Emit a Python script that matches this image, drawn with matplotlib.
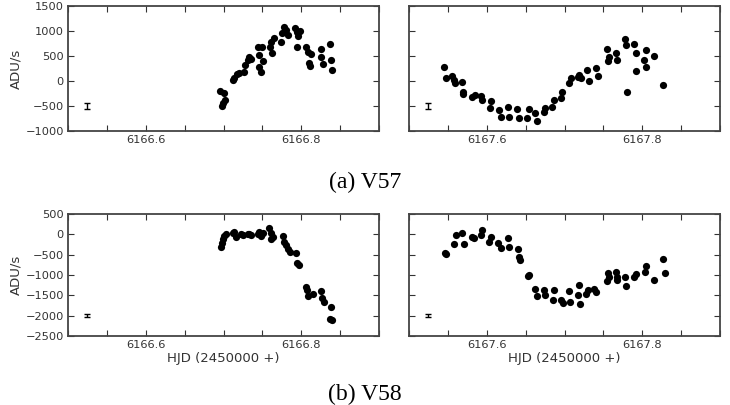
import matplotlib
matplotlib.use("Agg")
import matplotlib.pyplot as plt
import numpy as np

# ---------------- data ----------------
# V57, night 1
v57_n1_hjd = [6166.6959, 6166.7011, 6166.7019, 6166.6998, 6166.6976, 6166.7118, 6166.7140,
              6166.7170, 6166.7196, 6166.7269, 6166.7282, 6166.7312, 6166.7325, 6166.7355,
              6166.7441, 6166.7497, 6166.7454, 6166.7505, 6166.7462, 6166.7484, 6166.7604,
              6166.7626, 6166.7613, 6166.7647, 6166.7742, 6166.7755, 6166.7772, 6166.7798,
              6166.7828, 6166.7914, 6166.7944, 6166.7978, 6166.7957, 6166.7944, 6166.8065,
              6166.8086, 6166.8129, 6166.8095, 6166.8116, 6166.8258, 6166.8249, 6166.8280,
              6166.8366, 6166.8387, 6166.8400]
v57_n1_flux = [-193, -233, -380, -433, -500, 20, 53, 133, 153, 187, 320, 420, 487, 433,
               673, 673, 520, 400, 287, 173, 687, 553, 787, 853, 787, 967, 1087, 1020,
               920, 1053, 987, 1007, 900, 687, 673, 587, 533, 367, 300, 633, 487, 340,
               740, 420, 220]
# V57, night 2
v57_n2_hjd = [6167.5449, 6167.5471, 6167.5557, 6167.5578, 6167.5591, 6167.5677, 6167.5695,
              6167.5699, 6167.5815, 6167.5849, 6167.5923, 6167.5944, 6167.6052, 6167.6039,
              6167.6159, 6167.6181, 6167.6267, 6167.6280, 6167.6387, 6167.6409, 6167.6516,
              6167.6538, 6167.6624, 6167.6641, 6167.6740, 6167.6753, 6167.6839, 6167.6860,
              6167.6955, 6167.6968, 6167.7062, 6167.7084, 6167.7170, 6167.7191, 6167.7213,
              6167.7286, 6167.7312, 6167.7406, 6167.7428, 6167.7544, 6167.7570, 6167.7557,
              6167.7656, 6167.7673, 6167.7772, 6167.7794, 6167.7892, 6167.7923, 6167.7914,
              6167.7806, 6167.8022, 6167.8043, 6167.8052, 6167.8146, 6167.8267]
v57_n2_flux = [273, 67, 100, 20, -33, -13, -213, -267, -327, -280, -300, -380, -393, -547,
               -580, -713, -527, -727, -567, -747, -747, -567, -647, -793, -613, -547, -527,
               -380, -347, -213, -47, 53, 87, 120, 53, 220, 7, 253, 100, 633, 487, 407, 567,
               420, 833, 727, 740, 553, 207, -213, 420, 273, 620, 500, -73]
# V58, night 1
v58_n1_hjd = [6166.6968, 6166.6981, 6166.6998, 6166.7011, 6166.7032, 6166.7118, 6166.7140,
              6166.7161, 6166.7226, 6166.7247, 6166.7312, 6166.7333, 6166.7355, 6166.7441,
              6166.7462, 6166.7484, 6166.7505, 6166.7591, 6166.7613, 6166.7613, 6166.7634,
              6166.7763, 6166.7772, 6166.7798, 6166.7828, 6166.7849, 6166.7927, 6166.7944,
              6166.7970, 6166.8065, 6166.8073, 6166.8086, 6166.8151, 6166.8258, 6166.8271,
              6166.8288, 6166.8387, 6166.8374, 6166.8391]
v58_n1_flux = [-305, -223, -125, -42, 7, 23, 64, -75, 7, -18, -1, 7, -18, 7, 64, -42, 23,
               147, 23, -125, -59, -42, -182, -264, -371, -429, -470, -716, -758, -1292,
               -1374, -1522, -1456, -1390, -1555, -1662, -1785, -2073, -2114]
# V58, night 2
v58_n2_hjd = [6167.5462, 6167.5480, 6167.5578, 6167.5609, 6167.5686, 6167.5708, 6167.5806,
              6167.5837, 6167.5935, 6167.5923, 6167.6030, 6167.6052, 6167.6151, 6167.6181,
              6167.6267, 6167.6288, 6167.6396, 6167.6417, 6167.6426, 6167.6525, 6167.6538,
              6167.6624, 6167.6641, 6167.6740, 6167.6753, 6167.6847, 6167.6860, 6167.6955,
              6167.6976, 6167.7062, 6167.7071, 6167.7170, 6167.7183, 6167.7200, 6167.7299,
              6167.7277, 6167.7385, 6167.7406, 6167.7544, 6167.7557, 6167.7570, 6167.7656,
              6167.7673, 6167.7673, 6167.7772, 6167.7794, 6167.7892, 6167.7914, 6167.8030,
              6167.8052, 6167.8146, 6167.8267, 6167.8297]
v58_n2_flux = [-453, -486, -248, -18, 23, -240, -59, -100, 105, -18, -182, -59, -223, -347,
               -100, -305, -363, -552, -634, -1029, -988, -1333, -1514, -1374, -1497, -1604,
               -1374, -1604, -1686, -1399, -1662, -1497, -1251, -1719, -1374, -1456, -1333,
               -1415, -1144, -963, -1045, -922, -1045, -1127, -1045, -1275, -1045, -979,
               -922, -782, -1127, -610, -963]

# representative error bars (x, y, half-size)
err_x_n1 = 6166.5245
err_x_n2 = 6167.5245
err_v57 = (-500, 60)
err_v58 = (-2000, 30)

xlim_n1 = (6166.5, 6166.9)
xlim_n2 = (6167.5, 6167.9)
yticks_v57 = [-1000, -500, 0, 500, 1000, 1500]
yticks_v58 = [-2500, -2000, -1500, -1000, -500, 0, 500]
xlabels_n1 = {6166.6: "6166.6", 6166.8: "6166.8"}
xlabels_n2 = {6167.6: "6167.6", 6167.8: "6167.8"}

captions = ["(a) V57", "(b) V58"]

# ---------------- figure ----------------
plt.rcParams['font.family'] = ['DejaVu Sans']
fig = plt.figure(figsize=(7.3, 4.05), dpi=100)

W = 311 / 730
pos = {
    (0, 0): [68 / 730, 1 - 131 / 405, W, 125 / 405],
    (0, 1): [409 / 730, 1 - 131 / 405, W, 125 / 405],
    (1, 0): [68 / 730, 1 - 336 / 405, W, 122 / 405],
    (1, 1): [409 / 730, 1 - 336 / 405, W, 122 / 405],
}

panels = [
    ((0, 0), v57_n1_hjd, v57_n1_flux, xlim_n1, xlabels_n1, yticks_v57, err_x_n1, err_v57),
    ((0, 1), v57_n2_hjd, v57_n2_flux, xlim_n2, xlabels_n2, yticks_v57, err_x_n2, err_v57),
    ((1, 0), v58_n1_hjd, v58_n1_flux, xlim_n1, xlabels_n1, yticks_v58, err_x_n1, err_v58),
    ((1, 1), v58_n2_hjd, v58_n2_flux, xlim_n2, xlabels_n2, yticks_v58, err_x_n2, err_v58),
]

tick_col = '#333333'
for (r, c), hx, fy, xl, xlab, yt, ex, (ey, ee) in panels:
    ax = fig.add_axes(pos[(r, c)])
    ax.plot(hx, fy, 'o', color='black', markersize=5.2, markeredgewidth=0)
    ax.errorbar([ex], [ey], yerr=[ee], fmt='none', ecolor='black', elinewidth=1.0,
                capsize=2.2, capthick=1.0)
    ax.set_xlim(*xl)
    ax.set_ylim(yt[0], yt[-1])
    xt = np.round(np.arange(xl[0], xl[1] + 1e-6, 0.05), 2)
    ax.set_xticks(xt)
    ax.set_xticklabels([xlab.get(round(float(v), 1), "") if abs(v * 10 - round(v * 10)) < 1e-6 else "" for v in xt])
    ax.set_yticks(yt)
    if c == 0:
        ax.set_yticklabels([str(v).replace('-', '\u2212') for v in yt])
        ax.set_ylabel("ADU/s", fontsize=9.5, color=tick_col, labelpad=2)
    else:
        ax.set_yticklabels([])
    if r == 1:
        ax.set_xlabel("HJD (2450000 +)", fontsize=9.5, color=tick_col, labelpad=1)
    ax.tick_params(direction='in', top=True, right=True, length=4, width=0.8,
                   labelsize=8.2, colors=tick_col, pad=3)
    for s in ax.spines.values():
        s.set_linewidth(1.3)
        s.set_color('#444444')

fig.text(365 / 730, 1 - 182 / 405, captions[0], ha='center', va='center',
         family='Liberation Serif', fontsize=17, color='black')
fig.text(365 / 730, 1 - 394 / 405, captions[1], ha='center', va='center',
         family='Liberation Serif', fontsize=17, color='black')

fig.savefig("out.png", dpi=100)
